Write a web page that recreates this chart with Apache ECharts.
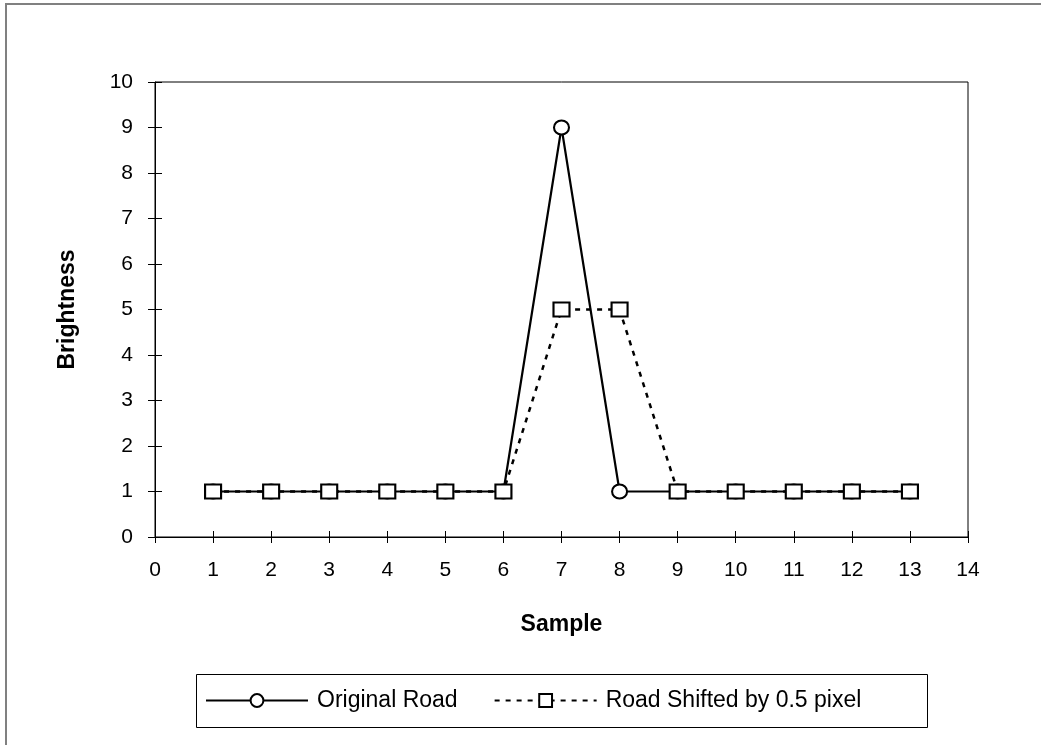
<!DOCTYPE html>
<html>
<head>
<meta charset="utf-8">
<script src="https://cdn.jsdelivr.net/npm/echarts@6/dist/echarts.min.js"></script>
<style>html,body{margin:0;padding:0;background:#fff}#c{width:1041px;height:745px}</style>
</head>
<body>
<div id="c"></div>
<script>
const samples = [1,2,3,4,5,6,7,8,9,10,11,12,13];
const originalRoad = [1,1,1,1,1,1,9,1,1,1,1,1,1];
const shiftedRoad = [1,1,1,1,1,1,5,5,1,1,1,1,1];
const seriesNames = ['Original Road', 'Road Shifted by 0.5 pixel'];
const xTitle = 'Sample';
const yTitle = 'Brightness';

const font = 'Liberation Sans, Arial, sans-serif';
const chart = echarts.init(document.getElementById('c'), null, {renderer: 'canvas'});
const pair = (xs, ys) => xs.map((x, i) => [x, ys[i]]);
const lbl = {color: '#000', fontSize: 21, fontFamily: font};
chart.setOption({
  animation: false,
  backgroundColor: '#fff',
  graphic: [{
    type: 'rect', silent: true, z: -1,
    shape: {x: 6, y: 4, width: 1100, height: 800},
    style: {fill: 'none', stroke: '#808080', lineWidth: 2}
  }, {
    type: 'rect', silent: true, z: -1,
    shape: {x: 196.5, y: 674.5, width: 731, height: 53},
    style: {fill: 'none', stroke: '#000', lineWidth: 1}
  }],
  grid: {left: 155, top: 82, right: 73, bottom: 208, show: true, borderColor: '#000', borderWidth: 1, backgroundColor: 'transparent'},
  xAxis: [{
    type: 'value', min: 0, max: 14, interval: 1, position: 'bottom',
    name: xTitle, nameLocation: 'middle', nameGap: 76,
    nameTextStyle: {color: '#000', fontSize: 23, fontWeight: 'bold', fontFamily: font},
    axisLine: {show: true, onZero: false, lineStyle: {color: '#000', width: 1}},
    axisTick: {show: true, length: 6, lineStyle: {color: '#000'}},
    axisLabel: Object.assign({margin: 23}, lbl),
    splitLine: {show: false}
  }, {
    type: 'value', min: 0, max: 14, interval: 1, position: 'bottom',
    axisLine: {show: false},
    axisTick: {show: true, inside: true, length: 6, lineStyle: {color: '#000'}},
    axisLabel: {show: false},
    splitLine: {show: false}
  }],
  yAxis: [{
    type: 'value', min: 0, max: 10, interval: 1, position: 'left',
    name: yTitle, nameLocation: 'middle', nameGap: 76, nameRotate: 90,
    nameTextStyle: {color: '#000', fontSize: 23, fontWeight: 'bold', fontFamily: font},
    axisLine: {show: true, onZero: false, lineStyle: {color: '#000', width: 1}},
    axisTick: {show: true, length: 7, lineStyle: {color: '#000'}},
    axisLabel: Object.assign({margin: 22}, lbl),
    splitLine: {show: false}
  }, {
    type: 'value', min: 0, max: 10, interval: 1, position: 'left',
    axisLine: {show: false},
    axisTick: {show: true, inside: true, length: 7, lineStyle: {color: '#000'}},
    axisLabel: {show: false},
    splitLine: {show: false}
  }],
  legend: {
    left: 205, top: 689, padding: 0,
    itemWidth: 102, itemHeight: 16, itemGap: 36,
    textStyle: {color: '#000', fontSize: 23, fontFamily: font, padding: [0, 0, 0, 4]},
    data: seriesNames
  },
  series: [{
    name: seriesNames[0], type: 'line', data: pair(samples, originalRoad),
    symbol: 'circle', symbolSize: [15, 14],
    lineStyle: {color: '#000', width: 2.2, type: 'solid'},
    itemStyle: {color: '#fff', borderColor: '#000', borderWidth: 2},
    z: 2
  }, {
    name: seriesNames[1], type: 'line', data: pair(samples, shiftedRoad),
    symbol: 'rect', symbolSize: [16, 14],
    lineStyle: {color: '#000', width: 2.5, type: [5, 6]},
    itemStyle: {color: '#fff', borderColor: '#000', borderWidth: 2},
    z: 3
  }]
});
</script>
</body>
</html>
